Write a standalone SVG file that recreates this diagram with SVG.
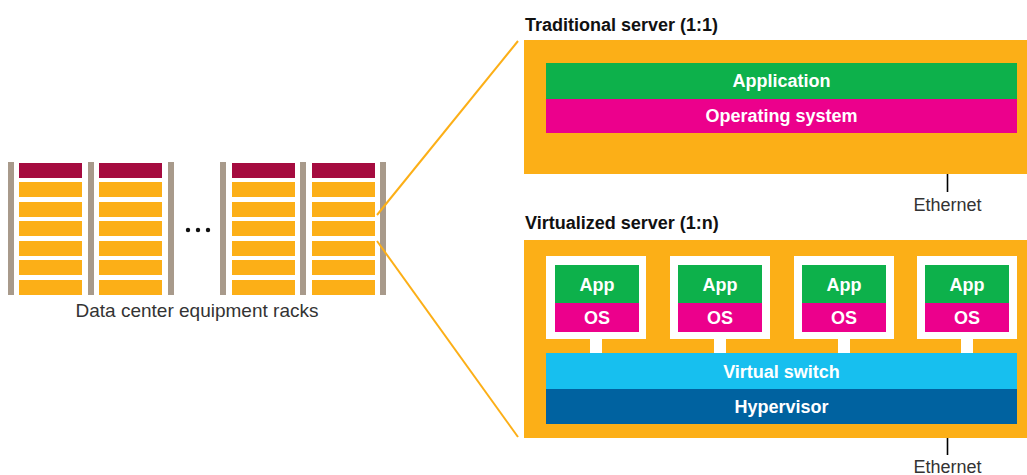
<svg xmlns="http://www.w3.org/2000/svg" width="1027" height="475" viewBox="0 0 1027 475">
<style>
.post{fill:#a89a8b}
.unit{fill:#fcaf17}
.top{fill:#a50b3f}
.frame{fill:#fcaf17}
.app{fill:#0db14b}
.os{fill:#ec008c}
.vm{fill:#ffffff}
.vsw{fill:#17bfef}
.hyp{fill:#0062a0}
.zoom{stroke:#fcaf17;stroke-width:2;fill:none}
.eth{stroke:#000;stroke-width:1.6;fill:none}
.lbl{font-family:"Liberation Sans",Arial,sans-serif;font-size:18px;fill:#333}
.ttl{font-family:"Liberation Sans",Arial,sans-serif;font-size:18px;font-weight:bold;fill:#111}
.in{font-family:"Liberation Sans",Arial,sans-serif;font-size:18px;font-weight:bold;fill:#fff;text-anchor:middle}
</style>
<defs>
<g id="rackcol">
<rect class="top" x="0" y="163" width="63" height="15"/>
<rect class="unit" x="0" y="182" width="63" height="15"/>
<rect class="unit" x="0" y="202" width="63" height="15"/>
<rect class="unit" x="0" y="221" width="63" height="15"/>
<rect class="unit" x="0" y="241" width="63" height="15"/>
<rect class="unit" x="0" y="260" width="63" height="15"/>
<rect class="unit" x="0" y="280" width="63" height="15"/>
</g>
</defs>
<g id="racks">
<rect class="post" x="8" y="162" width="6" height="133"/>
<use href="#rackcol" x="19"/>
<rect class="post" x="88" y="162" width="6" height="133"/>
<use href="#rackcol" x="99"/>
<rect class="post" x="168" y="162" width="6" height="133"/>
<circle cx="188" cy="230" r="2.2" fill="#111"/>
<circle cx="198" cy="230" r="2.2" fill="#111"/>
<circle cx="208" cy="230" r="2.2" fill="#111"/>
<rect class="post" x="220" y="162" width="6" height="133"/>
<use href="#rackcol" x="232"/>
<rect class="post" x="300" y="162" width="6" height="133"/>
<use href="#rackcol" x="312"/>
<rect class="post" x="380" y="162" width="6" height="133"/>
<text class="lbl" x="197" y="317" text-anchor="middle" style="font-size:19px">Data center equipment racks</text>
</g>
<g id="connectors">
<line class="zoom" x1="377" y1="215" x2="518" y2="41"/>
<line class="zoom" x1="377" y1="241" x2="518" y2="437"/>
<line class="eth" x1="947.5" y1="133" x2="947.5" y2="192"/>
<line class="eth" x1="947.5" y1="423" x2="947.5" y2="455"/>
</g>
<g id="traditional">
<text class="ttl" x="525" y="31">Traditional server (1:1)</text>
<rect class="frame" x="524" y="40" width="503" height="134"/>
<rect class="app" x="546" y="63" width="471" height="36"/>
<text class="in" x="781.5" y="87">Application</text>
<rect class="os" x="546" y="99" width="471" height="34"/>
<text class="in" x="781.5" y="122">Operating system</text>
<text class="lbl" x="947.5" y="211" text-anchor="middle">Ethernet</text>
</g>
<g id="virtualized">
<text class="ttl" x="525" y="229">Virtualized server (1:n)</text>
<rect class="frame" x="524" y="240" width="503" height="198"/>
<g id="vm1">
<rect class="vm" x="546" y="256" width="100" height="83"/>
<rect class="vm" x="590" y="338" width="12" height="16"/>
<rect class="app" x="555" y="265" width="84" height="38"/>
<rect class="os" x="555" y="303" width="84" height="29"/>
<text class="in" x="597" y="291">App</text>
<text class="in" x="597" y="324">OS</text>
</g>
<g id="vm2">
<rect class="vm" x="670" y="256" width="100" height="83"/>
<rect class="vm" x="714" y="338" width="12" height="16"/>
<rect class="app" x="678" y="265" width="84" height="38"/>
<rect class="os" x="678" y="303" width="84" height="29"/>
<text class="in" x="720" y="291">App</text>
<text class="in" x="720" y="324">OS</text>
</g>
<g id="vm3">
<rect class="vm" x="794" y="256" width="100" height="83"/>
<rect class="vm" x="838" y="338" width="12" height="16"/>
<rect class="app" x="802" y="265" width="84" height="38"/>
<rect class="os" x="802" y="303" width="84" height="29"/>
<text class="in" x="844" y="291">App</text>
<text class="in" x="844" y="324">OS</text>
</g>
<g id="vm4">
<rect class="vm" x="917" y="256" width="100" height="83"/>
<rect class="vm" x="961" y="338" width="12" height="16"/>
<rect class="app" x="925" y="265" width="84" height="38"/>
<rect class="os" x="925" y="303" width="84" height="29"/>
<text class="in" x="967" y="291">App</text>
<text class="in" x="967" y="324">OS</text>
</g>
<g id="vswitch">
<rect class="vsw" x="546" y="353" width="471" height="36"/>
<text class="in" x="781.5" y="378">Virtual switch</text>
</g>
<g id="hypervisor">
<rect class="hyp" x="546" y="389" width="471" height="35"/>
<text class="in" x="781.5" y="413">Hypervisor</text>
</g>
<text class="lbl" x="947.5" y="473" text-anchor="middle">Ethernet</text>
</g>
</svg>
